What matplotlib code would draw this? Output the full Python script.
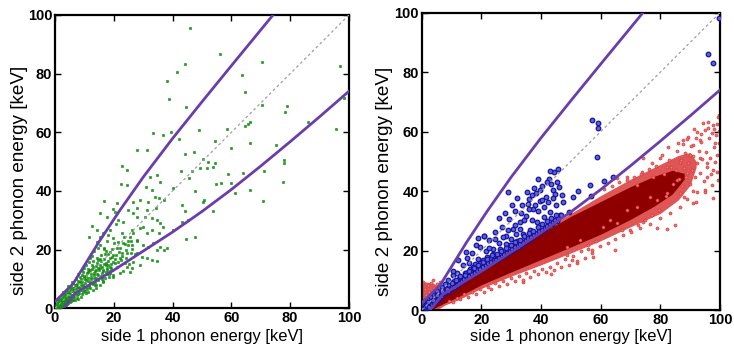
import matplotlib
matplotlib.use("Agg")
import matplotlib.pyplot as plt

# ---------------- data ----------------
ticks = [0, 20, 40, 60, 80, 100]
diag = [0, 100]

upper_cut_x = [0, 6.2, 15, 22, 30, 40, 50, 60, 74]
upper_cut_y = [2.3, 8.4, 22.7, 33.3, 44.7, 57.9, 70.4, 82.7, 99.8]
lower_cut_x = [2.8, 7.0, 20, 30, 40, 50, 60, 70, 80, 90, 100]
lower_cut_y = [0.0, 5.2, 13.0, 19.5, 26.0, 33.0, 40.5, 48.5, 56.8, 65.3, 74.0]

green_x = [45.9, 56.3, 44.3, 41.4, 38.0, 38.8, 44.6, 70.3, 63.5, 64.6, 96.9, 98.3, 70.3, 78.8, 78.3, 86.2, 95.6,
           65.8, 66.4, 64.6, 58.4, 49.0, 39.3, 42.2, 36.6, 66.3, 54.4, 59.8, 44.2, 47.4, 50.2, 52.2, 54.4, 53.9, 51.8,
           49.3, 46.5, 42.9, 45.7, 58.7, 63.8, 75.2, 78.0, 78.0, 77.4, 71.2, 70.9, 66.3, 59.9, 56.5, 54.8, 61.2, 50.5,
           50.8, 53.6, 47.6, 40.2, 37.2, 43.1, 44.2, 40.2, 43.1, 45.1, 44.6, 47.6, 31.2, 28.0, 22.7, 24.4, 24.6, 22.3,
           16.8, 33.2, 30.8, 32.9, 35.7, 34.6, 32.3, 34.0, 31.5, 28.9, 26.6, 27.8, 35.5, 31.2, 34.4,
           20.4, 19.8, 17.6, 21.5, 20.7, 23.2, 26.1, 26.6, 25.5, 27.8, 28.9, 30.0, 30.6, 32.9, 34.6, 35.7, 36.8, 35.5,
           32.9, 31.2, 33.4, 35.7, 37.2, 31.7, 30.0, 29.5, 31.2, 32.9, 34.6, 27.8, 26.1, 24.4, 22.7, 22.1, 20.4, 18.7,
           17.6, 19.8, 18.7, 16.7, 15.3, 14.2, 15.3, 16.4, 18.1, 19.8, 21.5, 23.2, 24.9, 25.7, 27.8, 26.6, 24.9, 21.0,
           15.3, 14.2, 12.5, 11.6, 18.7, 22.7, 21.0, 23.8, 26.6, 28.9, 25.5, 22.1, 19.8, 15.9, 24.4, 26.1, 34.6, 38.0,
           0.4, 0.7, 0.9, 1.3, 1.1, 1.8, 1.6, 2.3, 2.1, 2.6, 2.9, 3.4, 3.1, 3.7, 3.9, 4.3, 4.6, 4.1, 5.2, 4.9, 5.6,
           5.8, 6.3, 6.1, 6.8, 6.6, 7.2, 7.5, 7.9, 7.7, 8.2, 8.4, 8.8, 9.1, 9.3, 9.7, 9.9, 10.2, 10.6, 10.4, 11.1,
           11.3, 11.8, 11.6, 12.2, 12.5, 12.9, 12.7, 13.3, 13.6, 13.9, 14.2, 14.5, 14.8, 15.1, 15.4, 15.7, 16.1,
           16.4, 16.9, 17.2, 17.5, 17.8, 18.3, 18.6, 19.0, 19.4, 19.8,
           0.2, 0.6, 1.0, 1.4, 1.9, 2.2, 2.5, 2.8, 3.2, 3.5, 3.8, 4.2, 4.5, 4.8, 5.1, 5.4, 5.7, 6.0, 6.4, 6.7, 7.0,
           7.4, 7.8, 8.0, 8.5, 8.9, 9.2, 9.6, 10.0, 10.3, 10.8, 11.0, 11.5, 11.9, 12.3, 12.8, 13.1, 13.5, 13.8, 14.3,
           14.7, 15.2, 15.6, 16.0, 16.6, 17.0, 17.4, 18.0, 18.8, 19.3, 19.9, 20.5, 21.2, 21.8, 22.4, 23.0, 23.7,
           24.3, 25.1, 26.0,
           0.8, 1.5, 2.0, 2.7, 3.0, 3.6, 4.0, 4.4, 5.0, 5.3, 5.9, 6.2, 6.9, 7.1, 7.6, 8.1, 8.7, 9.4, 9.8, 10.5, 11.2,
           11.7, 12.0, 12.6, 13.2, 13.7, 14.0, 14.6, 15.3, 15.9, 16.3, 16.8, 17.6, 18.2, 18.5, 19.1,
           0.5, 1.2, 1.7, 2.4, 2.9, 3.3, 3.8, 4.2, 4.7, 5.1, 5.5, 5.9, 6.4, 6.8, 7.3, 7.7, 8.2, 8.6, 9.0, 9.5, 9.9,
           10.3, 10.7, 11.2, 11.6, 12.1, 12.5, 12.9, 13.4, 13.8, 14.3, 14.7, 15.2, 15.7, 16.2, 16.7, 17.2, 17.7,
           18.2, 18.8, 19.3, 20.0, 20.6, 21.3, 22.0, 22.8, 23.5, 24.2, 25.0, 26.3, 27.1, 28.0, 9.2, 10.6, 12.0,
           8.0, 13.3, 6.3, 7.0, 11.4, 14.0, 16.2]
green_y = [95.7, 86.6, 83.3, 80.5, 77.5, 71.3, 68.8, 84.1, 79.5, 73.9, 82.7, 71.8, 69.3, 69.1, 66.8, 63.6, 61.0,
           62.7, 63.4, 62.3, 61.1, 60.8, 60.0, 57.6, 59.1, 56.3, 56.9, 54.8, 52.6, 53.2, 50.8, 50.0, 49.7, 48.3, 47.9,
           47.7, 46.8, 46.9, 44.4, 45.7, 46.0, 55.7, 50.6, 49.4, 43.2, 46.8, 36.6, 40.3, 42.6, 42.7, 42.3, 39.4, 36.4,
           36.9, 33.2, 40.0, 40.9, 36.9, 35.2, 33.3, 26.7, 29.3, 30.1, 23.5, 24.4, 54.0, 54.0, 48.6, 47.2, 42.0, 42.3,
           36.6, 59.9, 41.5, 40.3, 43.2, 45.5, 44.9, 38.1, 36.4, 36.9, 36.4, 34.1, 37.5, 33.5, 34.1,
           32.7, 33.9, 31.3, 30.1, 28.8, 29.5, 26.7, 25.6, 24.4, 23.3, 27.3, 27.8, 31.3, 30.7, 30.1, 29.0, 27.8, 25.6,
           26.7, 25.6, 22.2, 21.0, 19.9, 21.0, 21.6, 17.6, 17.0, 16.5, 16.1, 18.8, 20.1, 19.0, 18.8, 17.0, 15.3, 12.8,
           13.6, 18.2, 19.3, 20.5, 21.6, 22.7, 24.4, 25.6, 25.0, 23.9, 22.7, 22.2, 21.6, 23.1, 31.3, 32.4, 33.5, 35.8,
           32.4, 26.7, 28.1, 24.4, 26.7, 25.6, 20.5, 15.3, 15.9, 14.8, 12.5, 11.9, 10.8, 10.8, 14.2, 13.9, 19.9, 20.5,
           1.1, 0.3, 2.4, 1.6, 0.6, 3.1, 1.2, 0.9, 2.7, 4.2, 2.1, 1.4, 3.6, 5.3, 2.9, 4.1, 1.9, 6.4, 3.3, 5.1, 7.2,
           4.6, 2.7, 5.8, 8.1, 4.0, 6.5, 3.6, 9.4, 7.1, 5.2, 10.6, 7.9, 4.8, 9.0, 12.3, 6.4, 8.7, 11.1, 5.3, 13.5,
           9.3, 7.0, 15.8, 11.7, 8.6, 14.1, 17.9, 10.2, 12.6, 6.8, 15.3, 9.5, 20.4, 13.0, 16.9, 11.1, 14.2,
           8.9, 18.6, 12.4, 15.5, 22.9, 10.7, 17.2, 13.8, 20.1, 15.9,
           0.5, 1.7, 3.3, 2.2, 0.4, 1.8, 3.4, 5.6, 2.4, 4.6, 1.1, 3.0, 7.5, 4.0, 2.2, 6.0, 8.9, 3.9, 7.0, 5.3, 10.5,
           8.3, 5.9, 3.1, 8.8, 6.2, 11.2, 7.6, 13.9, 9.9, 6.6, 11.9, 8.1, 13.0, 10.0, 6.3, 16.0, 9.0, 14.4, 11.8,
           13.7, 7.9, 18.2, 12.0, 15.1, 10.3, 19.7, 14.6, 12.2, 17.6, 11.4, 16.8, 14.0, 19.3, 16.4, 12.7, 21.8,
           17.3, 15.2, 19.0,
           0.9, 0.5, 2.2, 1.3, 4.8, 3.2, 2.1, 5.4, 6.7, 4.4, 3.0, 6.9, 5.5, 7.8, 4.6, 6.8, 9.9, 5.7, 10.4, 7.4, 10.3,
           12.6, 9.1, 13.4, 11.5, 8.0, 12.9, 16.3, 14.8, 10.0, 13.2, 16.8, 13.1, 16.0, 11.6, 15.0,
           0.2, 1.9, 0.8, 2.9, 1.0, 2.7, 4.0, 1.4, 3.4, 5.5, 2.6, 6.3, 4.9, 3.0, 7.3, 5.0, 9.0, 6.9, 3.9, 8.1, 11.0,
           6.0, 9.5, 12.4, 7.3, 10.6, 14.6, 8.2, 12.0, 10.4, 17.0, 11.2, 13.6, 16.0, 12.6, 20.2, 14.9, 11.7,
           18.4, 14.0, 12.9, 22.2, 18.2, 15.7, 20.6, 17.9, 24.3, 20.0, 22.8, 21.5, 18.4, 23.0, 13.2, 14.8, 17.3,
           11.6, 19.4, 8.7, 10.1, 5.6, 8.0, 9.2]

blue_x = [99.8, 96.1, 97.5, 57.2, 59.2, 59.2, 58.7, 29.1, 56.4, 56.8, 52.5, 50.6, 49.4, 61.2, 64.0, 21.0,
          0.3, 0.6, 0.9, 1.2, 1.4, 1.7, 2.0, 2.3, 2.6, 2.9, 3.1, 3.4, 3.8, 4.0, 4.3, 4.7, 5.0, 5.3, 5.6, 6.0,
          6.3, 6.7, 7.0, 7.4, 7.8, 8.1, 8.5, 8.9, 9.2, 9.6, 10.0, 10.4, 10.8, 11.2, 11.6, 12.0, 12.4, 12.8,
          13.2, 13.7, 14.1, 14.5, 14.9, 15.3, 15.7, 16.2, 16.6, 17.0, 17.5, 17.9, 18.4, 18.8, 19.3, 19.7, 20.2,
          20.6, 21.1, 21.5, 22.0, 22.4, 22.9, 23.3, 23.8, 24.2, 24.7, 25.1, 25.6, 26.0, 26.5, 26.9, 27.4, 27.8,
          28.3, 28.7, 29.2, 29.6, 30.1, 30.5, 31.0, 31.4, 31.9, 32.3, 32.8, 33.2, 33.7, 34.1, 34.6, 35.0, 35.5,
          35.9, 36.4, 36.8, 37.3, 37.7, 38.2, 38.6, 39.1, 39.5, 40.0, 40.4, 40.9, 41.3, 41.8, 42.2, 42.7, 43.1,
          43.6, 44.0, 44.5, 44.9, 45.4, 45.8, 46.3, 46.9,
          10.5, 12.2, 14.8, 16.0, 18.1, 19.0, 20.9, 22.7, 24.5, 25.8, 27.1, 28.0, 29.0, 30.2, 31.2, 32.1, 33.4,
          34.3, 35.2, 36.0, 36.9, 37.8, 38.0, 38.9, 39.8, 40.5, 41.1, 41.9, 42.5, 43.3, 43.9, 44.7, 45.2, 46.0,
          47.3, 37.0, 35.6, 33.0, 31.6, 29.9, 28.4, 26.3, 24.0, 21.8, 19.5, 17.2, 15.0, 13.0, 11.0, 9.0, 39.0, 43.0,
          1.0, 1.8, 2.5, 3.3, 4.1, 4.9, 5.7, 6.5, 7.3, 8.0, 8.7, 9.5, 10.2, 10.9, 11.7, 12.5, 13.4, 14.2, 15.1,
          16.0, 16.9, 17.8, 18.7, 19.6, 20.5, 21.4, 22.3, 23.2, 24.1, 25.0, 25.9, 26.8, 27.7, 28.6, 29.5, 30.4,
          31.3, 32.2, 33.1, 34.0, 34.9, 35.8, 36.7, 37.6, 38.5, 39.4, 40.3, 41.2, 42.1, 43.0, 43.9, 44.8, 45.7,
          46.6,
          2.0, 3.7, 5.2, 6.8, 8.4, 10.0, 11.5, 13.0, 14.5, 16.0, 17.5, 19.0, 20.6, 22.0, 23.6, 25.2, 26.7, 28.2,
          29.8, 31.3, 32.8, 34.4, 35.9, 37.4, 39.0, 40.5, 42.0, 43.5, 45.0]
blue_y = [98.1, 86.1, 83.2, 63.9, 62.8, 61.1, 51.6, 39.6, 42.0, 38.3, 40.1, 38.1, 32.8, 43.4, 44.6, 24.9,
          0.9, 2.1, 1.3, 3.0, 0.7, 2.4, 1.6, 3.6, 2.3, 1.5, 4.4, 3.0, 2.2, 5.2, 3.6, 2.9, 4.7, 6.5, 3.8, 5.4,
          4.3, 7.6, 5.6, 6.3, 8.9, 6.1, 7.4, 10.2, 6.9, 8.6, 7.3, 11.8, 8.1, 9.7, 8.4, 12.6, 9.0, 10.9,
          9.4, 15.1, 10.1, 12.3, 10.6, 17.4, 11.4, 13.8, 11.9, 19.2, 12.4, 15.6, 12.9, 17.0, 13.5, 21.3, 14.2,
          16.7, 14.6, 19.8, 15.3, 23.4, 17.4, 15.9, 20.6, 16.6, 26.1, 18.3, 17.2, 22.5, 17.9, 28.0, 19.7, 18.5,
          24.8, 19.2, 30.6, 21.7, 19.8, 27.1, 20.5, 33.2, 23.3, 21.2, 29.5, 21.9, 35.4, 25.6, 22.8, 31.7, 23.5,
          37.4, 27.0, 24.2, 33.9, 25.0, 39.3, 29.6, 25.8, 36.5, 26.5, 41.6, 31.2, 27.3, 38.1, 28.2, 44.0, 33.1,
          29.0, 40.2, 46.3, 35.3, 30.1, 47.4, 32.0, 38.8,
          13.2, 16.9, 19.6, 15.9, 21.9, 24.3, 25.0, 21.0, 23.8, 30.9, 24.4, 32.7, 26.9, 35.2, 28.6, 37.8, 32.5,
          30.4, 39.6, 34.0, 30.3, 41.0, 35.2, 33.4, 40.4, 37.0, 34.7, 43.0, 36.2, 42.3, 37.6, 39.0, 43.2, 41.5,
          36.4, 38.7, 35.8, 27.4, 25.5, 24.0, 22.2, 20.4, 19.0, 17.7, 15.8, 14.3, 12.6, 11.2, 9.8, 8.5, 44.0, 46.6,
          1.0, 1.2, 1.0, 1.9, 2.4, 3.1, 3.9, 4.6, 5.6, 5.9, 6.5, 7.0, 7.6, 7.9, 8.5, 9.2, 9.8, 10.3, 10.9,
          11.6, 12.1, 12.6, 13.3, 13.8, 14.5, 15.0, 15.7, 16.2, 16.9, 16.9, 17.5, 18.1, 18.7, 19.3, 19.9, 20.6,
          21.1, 21.7, 22.3, 22.9, 23.5, 24.1, 24.6, 25.3, 25.9, 26.5, 27.0, 27.6, 28.4, 29.0, 29.6, 30.4, 31.0,
          31.8,
          2.6, 3.5, 4.9, 6.5, 7.2, 9.0, 10.0, 11.4, 11.8, 13.2, 14.1, 15.0, 16.0, 17.3, 18.4, 18.9, 19.8, 20.8,
          21.8, 22.8, 23.7, 24.8, 25.8, 26.7, 27.8, 28.8, 29.9, 30.9, 32.0]

# dense red band: outer (light) and inner (dark) envelopes
red_halo_x = [0, 1, 4, 6, 8, 12, 20, 30, 40, 50, 60, 70, 80, 86, 90, 92]
red_halo_lo = [0, 0, 0, 0.6, 1.8, 3.3, 7.3, 11.4, 15.2, 19.2, 23.3, 28.0, 32.5, 37.0, 42.0, 48.0]
red_halo_hi = [8.5, 9.5, 9.0, 7.5, 6.6, 8.6, 13.3, 19.8, 26.3, 32.5, 38.5, 44.0, 49.0, 52.0, 53.0, 50.0]
red_core_x = [0, 3, 8, 12, 20, 30, 40, 50, 60, 70, 78, 84, 88]
red_core_lo = [0, 0, 2.5, 4.3, 8.5, 12.8, 17.0, 21.2, 25.5, 30.5, 35.0, 39.0, 44.0]
red_core_hi = [2.0, 3.5, 6.3, 8.4, 13.0, 19.4, 25.8, 31.5, 36.5, 41.5, 45.0, 47.0, 46.0]

red_x = [99.8, 94.4, 98.9, 91.0, 93.3, 86.0, 82.7, 87.7, 79.9, 74.3, 77.1, 73.8, 68.7, 65.4, 92.2, 95.0, 97.8,
         91.0, 88.8, 84.9, 82.3, 78.8, 76.5, 74.3, 73.2, 69.8, 67.0, 64.8, 65.4, 60.9, 57.0, 57.5, 50.3, 48.6,
         79.9, 83.2, 86.6, 97.8, 99.4, 95.5, 100, 97.2, 96.1, 92.2, 89.4, 98.3, 89.9, 86.6, 93.3, 95.5, 82.1,
         77.6, 72.1, 85.5, 88.8, 76.5, 82.1, 78.8, 72.1, 68.7, 63.1, 53.1, 48.6,
         1, 2, 3, 4, 5, 2.5, 1.5, 4.5, 6, 3.5, 0.5, 3.9, 43.3, 34.1, 55.9, 52.0,
         85.3, 86.1, 86.8, 87.2, 87.9, 88.4, 88.7, 89.3, 89.8, 90.2, 90.6, 91.1, 91.5, 91.9, 92.4, 92.8, 93.2,
         93.7, 94.1, 94.5, 94.9, 95.3, 95.8, 96.2, 96.6, 97.0, 97.5, 97.9, 98.3, 98.7, 99.1, 99.5, 99.8, 86.5,
         88.0, 90.9, 92.0, 95.0, 97.2, 99.0, 85.7, 87.5, 89.0, 91.3, 93.5, 96.0, 98.0, 99.6, 84.2, 83.5, 82.8,
         81.9, 81.2, 80.6, 79.7, 78.5, 77.3, 76.1, 74.9, 73.6, 72.4, 71.3, 70.1, 68.8, 67.5, 66.2, 64.9, 63.7,
         62.4, 61.1, 59.8, 58.5, 57.2, 55.9, 54.6, 53.3, 52.0, 50.7, 49.4, 48.1, 46.8, 45.5, 44.2, 42.9, 41.6,
         40.3, 39.0, 37.7, 36.4, 35.1, 33.8, 32.5, 31.2, 29.9, 28.6, 27.3, 26.0, 24.7, 23.4, 22.1, 20.8, 19.5,
         18.2, 16.9, 15.6, 14.3, 13.0, 11.7, 10.4, 9.1]
red_y = [65.6, 63.0, 62.6, 55.5, 57.2, 56.1, 54.9, 57.2, 51.0, 51.0, 49.3, 46.5, 44.8, 44.3, 39.8, 40.4, 37.6,
         35.9, 37.3, 28.6, 27.1, 27.5, 28.9, 29.7, 27.5, 26.9, 26.9, 20.2, 29.2, 28.0, 20.2, 17.9, 16.8, 18.5,
         30.8, 32.5, 34.7, 47.1, 43.7, 44.8, 53.8, 59.4, 61.1, 60.0, 58.3, 56.1, 52.1, 49.9, 51.0, 49.3, 48.2,
         44.8, 42.0, 43.7, 46.0, 38.1, 39.3, 37.0, 34.7, 33.6, 30.3, 23.5, 21.3,
         7, 8.5, 9, 7.5, 8.8, 6, 5, 6.5, 9.5, 4.5, 9.5, 10.1, 12.1, 9.3, 20.4, 15.7,
         47.2, 44.0, 50.3, 41.6, 47.8, 52.9, 44.9, 49.6, 42.3, 55.1, 47.0, 51.8, 44.6, 58.0, 49.3, 53.6, 46.1,
         56.4, 50.8, 43.3, 60.4, 53.0, 48.2, 57.7, 51.2, 45.6, 62.1, 54.7, 49.8, 58.9, 52.3, 64.8, 56.2, 39.2,
         38.0, 40.1, 36.3, 39.8, 41.9, 46.5, 53.5, 55.9, 57.5, 60.9, 59.3, 63.2, 61.0, 60.3, 42.5, 48.1, 50.6,
         38.4, 45.8, 52.2, 33.7, 48.6, 31.8, 47.3, 30.4, 45.9, 28.7, 44.6, 26.3, 43.8, 25.1, 42.9, 23.9, 41.7,
         22.5, 40.6, 21.4, 23.3, 19.3, 21.8, 17.6, 20.0, 16.6, 18.1, 15.3, 17.2, 14.4, 15.9, 13.3, 14.6, 12.8,
         13.9, 12.0, 13.1, 11.2, 12.4, 10.1, 11.5, 9.7, 10.6, 8.8, 9.9, 8.1, 9.0, 6.9, 7.9, 6.2, 7.0,
         5.4, 6.1, 4.5, 5.3, 3.7, 4.2, 2.8, 3.1]

xlabel = "side 1 phonon energy [keV]"
ylabel = "side 2 phonon energy [keV]"

# ---------------- styling ----------------
PURPLE = "#6a3eaa"
LABEL_FONT = ["Liberation Sans Narrow", "Liberation Sans", "DejaVu Sans"]
TICK_FONT = ["Liberation Sans", "DejaVu Sans"]

fig = plt.figure(figsize=(7.34, 3.47), dpi=100)
ax1 = fig.add_axes([0.0749, 0.1115, 0.4005, 0.8453])
ax2 = fig.add_axes([0.5745, 0.1066, 0.4064, 0.8568])


def style(ax, ylab_y, ylab_x, xlab_y):
    ax.set_xlim(0, 100)
    ax.set_ylim(0, 100)
    ax.set_xticks(ticks)
    ax.set_yticks(ticks)
    ax.tick_params(direction="in", top=True, right=True, length=4, width=1, pad=2)
    for lab in ax.get_xticklabels() + ax.get_yticklabels():
        lab.set_fontfamily(TICK_FONT)
        lab.set_fontweight("bold")
        lab.set_fontsize(10.5)
    for sp in ax.spines.values():
        sp.set_linewidth(1.6)
    ax.set_xlabel(xlabel, family=LABEL_FONT, fontsize=11.9, va="center")
    ax.set_ylabel(ylabel, family=LABEL_FONT, fontsize=13.6, va="center")
    ax.xaxis.set_label_coords(0.5, xlab_y)
    ax.yaxis.set_label_coords(ylab_x, ylab_y)


def cuts(ax):
    ax.plot(diag, diag, color="#a0a0a0", lw=0.9, dashes=(2.2, 2.2), zorder=4)
    ax.plot(upper_cut_x, upper_cut_y, color=PURPLE, lw=2.0, zorder=5)
    ax.plot(lower_cut_x, lower_cut_y, color=PURPLE, lw=2.0, zorder=5)


# left panel
ax1.plot(green_x, green_y, linestyle="none", marker="s", ms=2.1, mfc="#16a016", mec="#0a880a",
         mew=0.4, zorder=3)
cuts(ax1)
style(ax1, 0.437, -0.119, -0.095)

# right panel
ax2.fill_between(red_halo_x, red_halo_lo, red_halo_hi, color="#de5656", lw=0, zorder=1)
ax2.fill_between(red_core_x, red_core_lo, red_core_hi, color="#8e0000", lw=0, zorder=2)
ax2.plot(red_x, red_y, linestyle="none", marker="o", ms=2.2, mfc="#f07070", mec="#d03030",
         mew=0.4, zorder=2)
ax2.plot(blue_x, blue_y, linestyle="none", marker="o", ms=3.3, mfc="#6060d8", mec="#1414a0",
         mew=0.9, zorder=3)
cuts(ax2)
style(ax2, 0.434, -0.123, -0.088)

fig.savefig("out.png", dpi=100)
